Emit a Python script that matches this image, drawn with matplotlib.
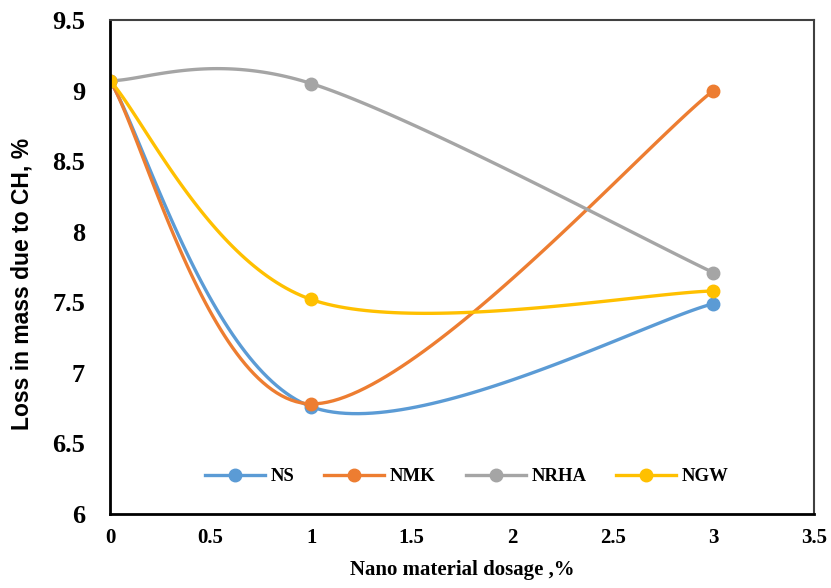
import numpy as np
import matplotlib
matplotlib.use('Agg')
import matplotlib.pyplot as plt

# dosage (%) and loss in mass due to CH (%)
dosage = [0, 1, 3]
ns = [9.07, 6.76, 7.49]
nmk = [9.07, 6.78, 9.00]
nrha = [9.07, 9.05, 7.71]
ngw = [9.07, 7.52, 7.58]

labels = ['NS', 'NMK', 'NRHA', 'NGW']
colors = ['#5B9BD5', '#ED7D31', '#A5A5A5', '#FFC000']

xticks = [0, 0.5, 1, 1.5, 2, 2.5, 3, 3.5]
yticks = [6, 6.5, 7, 7.5, 8, 8.5, 9, 9.5]


def smooth(x, y, n=60):
    """spreadsheet-style smoothed line: cubic bezier through the points"""
    p = np.column_stack([x, y]).astype(float)
    out = []
    for i in range(len(p) - 1):
        p0 = p[i - 1] if i > 0 else p[i]
        p1, p2 = p[i], p[i + 1]
        p3 = p[i + 2] if i + 2 < len(p) else p[i + 1]
        c1 = p1 + (p2 - p0) / 6
        c2 = p2 - (p3 - p1) / 6
        t = np.linspace(0, 1, n)[:, None]
        seg = ((1 - t) ** 3 * p1 + 3 * (1 - t) ** 2 * t * c1
               + 3 * (1 - t) * t ** 2 * c2 + t ** 3 * p2)
        out.append(seg if i == 0 else seg[1:])
    seg = np.vstack(out)
    return seg[:, 0], seg[:, 1]


fig = plt.figure(figsize=(8.31, 5.88), dpi=100)
ax = fig.add_axes([0.1324, 0.1259, 0.8471, 0.8401])

for vals, lab, c in zip([ns, nmk, nrha, ngw], labels, colors):
    sx, sy = smooth(dosage, vals)
    ax.plot(sx, sy, color=c, lw=2.4, solid_capstyle='round')
    ax.plot(dosage, vals, 'o', color=c, ms=9)
    ax.plot([], [], '-o', color=c, lw=2.4, ms=9, label=lab)

ax.set_xlim(0, 3.5)
ax.set_ylim(6, 9.5)
ax.set_xticks(xticks)
ax.set_xticklabels([f'{v:g}' for v in xticks],
                   fontfamily='Liberation Serif', fontweight='bold', fontsize=15)
ax.set_yticks(yticks)
ax.set_yticklabels([f'{v:g}' for v in yticks],
                   fontfamily='Liberation Serif', fontweight='bold', fontsize=19)
ax.tick_params(axis='y', length=0, pad=18)
ax.tick_params(axis='x', length=0, pad=10)

ax.set_xlabel('Nano material dosage ,%', fontfamily='Liberation Serif',
              fontweight='bold', fontsize=15, labelpad=9)
ax.set_ylabel('Loss in mass due to CH, %', fontfamily='Liberation Sans',
              fontweight='bold', fontsize=16.5)
ax.yaxis.set_label_coords(-0.109, 0.466)

for s in ['left', 'bottom']:
    ax.spines[s].set_linewidth(2)
    ax.spines[s].set_color('black')
for s in ['top', 'right']:
    ax.spines[s].set_linewidth(1.5)
    ax.spines[s].set_color('#404040')

leg = ax.legend(loc='center', bbox_to_anchor=(0.507, 0.075), ncol=4,
                frameon=False, handlelength=3.2, columnspacing=1.6,
                handletextpad=0.3,
                prop={'family': 'Liberation Serif', 'weight': 'bold', 'size': 13.5})

fig.savefig('out.png', dpi=100)
